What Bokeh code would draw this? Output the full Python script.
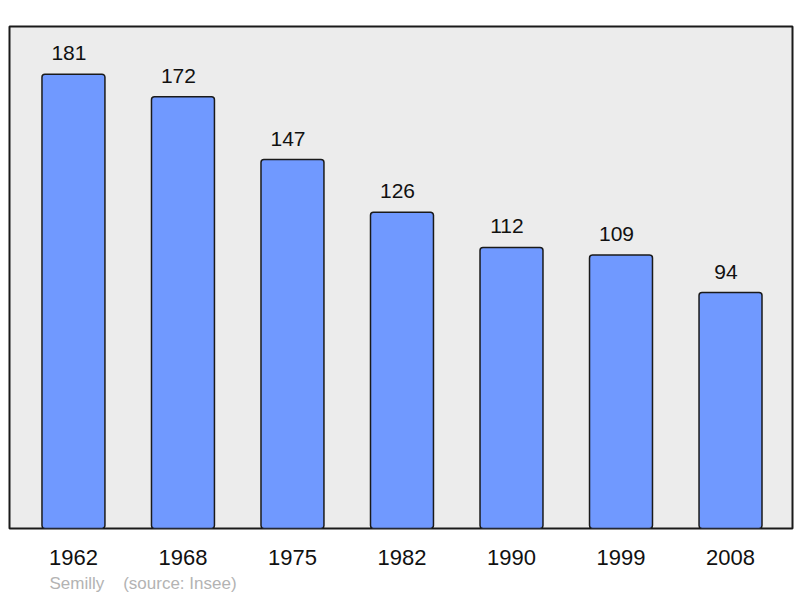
from bokeh.plotting import figure
from bokeh.models import ColumnDataSource, Range1d, FixedTicker, LabelSet, Title
from bokeh.core.properties import value
from bokeh.embed import file_html
from bokeh.resources import INLINE

# population by census year (Semilly, source Insee)
years = ["1962", "1968", "1975", "1982", "1990", "1999", "2008"]
population = [181, 172, 147, 126, 112, 109, 94]
town = "Semilly"
source_note = "(source: Insee)"

FONT = "Liberation Sans"

pos = list(range(len(years)))
src = ColumnDataSource(dict(x=pos, top=population, lab=[str(v) for v in population]))

p = figure(width=800, height=598, output_backend="svg", toolbar_location=None,
           x_range=Range1d(-0.584, 6.566), y_range=Range1d(0, 200),
           min_border_left=9, min_border_right=8, min_border_top=26, min_border_bottom=70)
p.background_fill_color = "#ececec"
p.border_fill_color = "white"
p.outline_line_color = "#1a1a1a"
p.outline_line_width = 2
p.grid.visible = False
p.yaxis.visible = False

# bars
p.vbar(x="x", top="top", bottom=0, width=0.575, source=src,
       fill_color="#7099ff", line_color="#1a1a1a", line_width=1.5, border_radius=3)

# value labels on top of bars
labels = LabelSet(x="x", y="top", text="lab", source=src, text_align="center",
                  text_baseline="alphabetic", y_offset=14, x_offset=-4.5,
                  text_font=value(FONT), text_font_size=value("21px"),
                  text_color=value("#111111"))
p.add_layout(labels)

# year labels
ax = p.xaxis[0]
ax.ticker = FixedTicker(ticks=pos)
ax.major_label_overrides = {i: y for i, y in zip(pos, years)}
ax.axis_line_color = None
ax.major_tick_line_color = None
ax.minor_tick_line_color = None
ax.major_tick_out = 0
ax.major_tick_in = 0
ax.major_label_standoff = 21
ax.major_label_text_font = FONT
ax.major_label_text_font_size = "22px"
ax.major_label_text_color = "#111111"

# footer note
note = Title(text=town + "\u00a0" * 4 + source_note, align="left", offset=40,
             text_font=FONT, text_font_size="17px", text_font_style="normal",
             text_color="#b3b3b3", standoff=9)
p.add_layout(note, "below")

open("out.html", "w").write(file_html(p, INLINE))
